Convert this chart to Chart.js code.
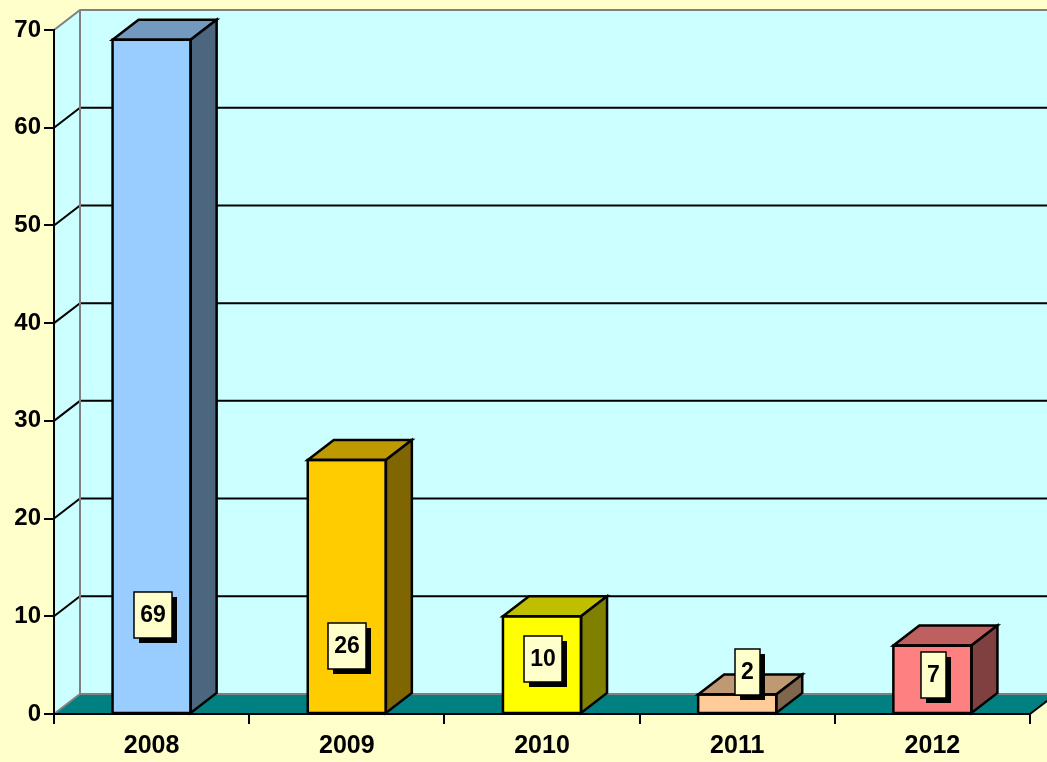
<!DOCTYPE html>
<html><head><meta charset="utf-8">
<script src="https://cdn.jsdelivr.net/npm/chart.js@4"></script>
<style>html,body{margin:0;padding:0;background:#FFFFCC;overflow:hidden}</style>
</head><body>
<canvas id="c" width="1047" height="762"></canvas>
<script>
const categories = ['2008', '2009', '2010', '2011', '2012'];
const values = [69, 26, 10, 2, 7];
const yTicks = [0, 10, 20, 30, 40, 50, 60, 70];
const barColors = ['#99CCFF', '#FFCC00', '#FFFF00', '#FFCC99', '#FF8080'];
// where the value boxes sit (in axis units) and a small horizontal nudge (px)
const labelLevels = [10.1, 7.0, 5.6, 4.3, 4.0];
const labelShiftPx = [1, 0, 1, 10, 1];

const DX = 26, DY = -20;
const FONT = "'Liberation Sans', Arial, sans-serif";

function shade(hex, f) {
  const n = parseInt(hex.slice(1), 16);
  const r = Math.round(((n >> 16) & 255) * f), g = Math.round(((n >> 8) & 255) * f), b = Math.round((n & 255) * f);
  return `rgb(${r},${g},${b})`;
}
function poly(ctx, pts) {
  ctx.beginPath();
  ctx.moveTo(pts[0][0], pts[0][1]);
  for (let i = 1; i < pts.length; i++) ctx.lineTo(pts[i][0], pts[i][1]);
  ctx.closePath();
}

const box3d = {
  id: 'box3d',
  beforeDraw(chart) {
    const ctx = chart.ctx, ca = chart.chartArea, ys = chart.scales.y;
    const L = ca.left, R = ca.right;
    const top = ys.getPixelForValue(yTicks[yTicks.length - 1]);
    const base = ys.getPixelForValue(0);
    ctx.save();
    ctx.fillStyle = '#CCFFFF';
    poly(ctx, [[L, top], [L + DX, top + DY], [L + DX, base + DY], [L, base]]);
    ctx.fill();
    ctx.fillRect(L + DX, top + DY, (R - L) + 40, base - top);
    ctx.lineWidth = 2;
    ctx.strokeStyle = '#000';
    yTicks.forEach(v => {
      if (v === 0 || v === yTicks[yTicks.length - 1]) return;
      const y = ys.getPixelForValue(v);
      ctx.beginPath();
      ctx.moveTo(L, y); ctx.lineTo(L + DX, y + DY); ctx.lineTo(R + DX + 40, y + DY);
      ctx.stroke();
    });
    ctx.strokeStyle = '#808080';
    ctx.beginPath();
    ctx.moveTo(L, top); ctx.lineTo(L + DX, top + DY); ctx.lineTo(R + DX + 40, top + DY);
    ctx.moveTo(L + DX, top + DY); ctx.lineTo(L + DX, base + DY);
    ctx.stroke();
    ctx.fillStyle = '#008080';
    poly(ctx, [[L, base], [L + DX, base + DY], [R + DX, base + DY], [R, base]]);
    ctx.fill();
    ctx.strokeStyle = '#808080';
    ctx.beginPath();
    ctx.moveTo(L, base); ctx.lineTo(L + DX, base + DY); ctx.lineTo(R + DX + 40, base + DY);
    ctx.stroke();
    ctx.strokeStyle = '#000';
    ctx.beginPath();
    ctx.moveTo(R, base); ctx.lineTo(R + DX, base + DY);
    ctx.stroke();
    ctx.restore();
  },
  afterDatasetsDraw(chart) {
    const ctx = chart.ctx, ys = chart.scales.y;
    const meta = chart.getDatasetMeta(0);
    ctx.save();
    ctx.lineWidth = 2.5;
    ctx.lineJoin = 'miter';
    ctx.strokeStyle = '#000';
    meta.data.forEach((bar, i) => {
      const { x, y, width, base } = bar.getProps(['x', 'y', 'width', 'base'], true);
      const l = x - width / 2, r = x + width / 2;
      const c = barColors[i];
      ctx.fillStyle = shade(c, 0.75);
      poly(ctx, [[l, y], [l + DX, y + DY], [r + DX, y + DY], [r, y]]);
      ctx.fill(); ctx.stroke();
      ctx.fillStyle = shade(c, 0.5);
      poly(ctx, [[r, y], [r + DX, y + DY], [r + DX, base + DY], [r, base]]);
      ctx.fill(); ctx.stroke();
      ctx.strokeRect(l, y, width, base - y);
    });
    ctx.font = `bold 23px ${FONT}`;
    ctx.textAlign = 'center';
    ctx.textBaseline = 'middle';
    meta.data.forEach((bar, i) => {
      const txt = String(values[i]);
      const cx = bar.x + labelShiftPx[i];
      const cy = ys.getPixelForValue(labelLevels[i]);
      const w = Math.round(ctx.measureText(txt).width + 12), h = 46;
      const bx = Math.round(cx - w / 2), by = Math.round(cy - h / 2);
      ctx.fillStyle = '#000';
      ctx.fillRect(bx + 5, by + 5, w, h);
      ctx.fillStyle = '#FFFFCC';
      ctx.fillRect(bx, by, w, h);
      ctx.lineWidth = 1.5;
      ctx.strokeRect(bx, by, w, h);
      ctx.fillStyle = '#000';
      ctx.fillText(txt, bx + w / 2, by + h / 2 + 1);
    });
    ctx.restore();
  }
};

new Chart(document.getElementById('c'), {
  type: 'bar',
  data: {
    labels: categories,
    datasets: [{
      data: values,
      backgroundColor: barColors,
      borderColor: '#000',
      borderWidth: 0,
      barPercentage: 0.4,
      categoryPercentage: 1.0
    }]
  },
  options: {
    responsive: false,
    animation: false,
    events: [],
    layout: { padding: { top: 30, right: 17, left: 0, bottom: 0 } },
    plugins: { legend: { display: false }, tooltip: { enabled: false } },
    scales: {
      x: {
        grid: { display: true, drawOnChartArea: false, drawTicks: true, tickLength: 10, color: '#000', lineWidth: 2, offset: true },
        border: { display: true, color: '#000', width: 2 },
        ticks: { color: '#000', font: { family: FONT, size: 25, weight: 'bold' }, padding: 7, maxRotation: 0 },
        afterFit(scale) { scale.height = 48; }
      },
      y: {
        min: 0, max: 70,
        afterBuildTicks(scale) { scale.ticks = yTicks.map(v => ({ value: v })); },
        grid: { display: true, drawOnChartArea: false, drawTicks: true, tickLength: 10, color: '#000', lineWidth: 2 },
        border: { display: true, color: '#000', width: 2 },
        ticks: { color: '#000', font: { family: FONT, size: 24, weight: 'bold' }, padding: 3 },
        afterFit(scale) { scale.width = 54; }
      }
    }
  },
  plugins: [box3d]
});
</script>
</body></html>
